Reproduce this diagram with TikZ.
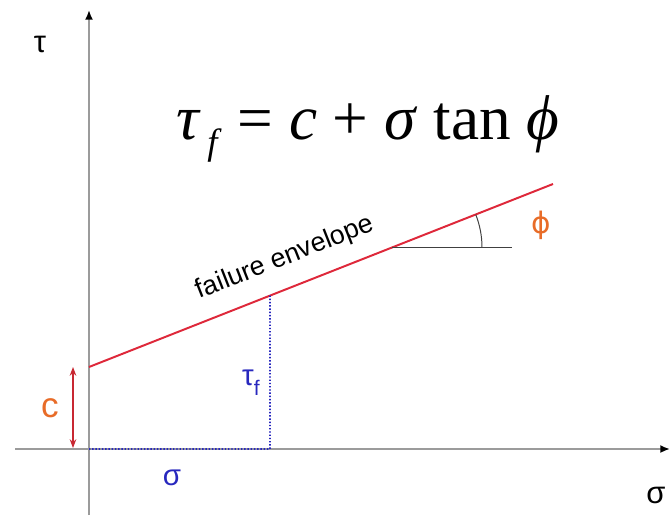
\documentclass[tikz,border=0pt]{standalone}
\usepackage{fontspec}
\setmainfont{Liberation Sans}
\newfontfamily\tms{Liberation Serif}
\newfontfamily\djs{DejaVu Sans}
\usetikzlibrary{arrows.meta,calc}
\definecolor{envred}{RGB}{222,40,58}
\definecolor{arrred}{RGB}{200,40,50}
\definecolor{labor}{RGB}{232,108,40}
\definecolor{labblue}{RGB}{40,40,190}
\definecolor{axgray}{RGB}{155,155,155}
\tikzset{
  axl/.style={-{Latex[length=2.4mm,width=2mm,black]}, axgray, line width=2pt},
  env/.style={envred, line width=1.4pt},
  dln/.style={labblue, dash pattern=on 1pt off 1.3pt, line width=1.2pt},
  carr/.style={{Stealth[length=2.2mm]}-{Stealth[length=2.2mm]}, arrred, line width=0.8pt},
  ang/.style={black!75, line width=0.7pt},
  axlab/.style={font=\fontsize{22}{24}\selectfont},
  orlab/.style={text=labor, font=\fontsize{25}{28}\selectfont},
  bllab/.style={text=labblue, font=\fontsize{21}{24}\selectfont},
}

\begin{document}
\begin{tikzpicture}[x=0.025cm,y=0.025cm]
\useasboundingbox (0,0) rectangle (671,522);
% axes
\coordinate (ybot) at (89,7);
\coordinate (ytop) at (89,512);
\coordinate (xlft) at (15,73);
\coordinate (xrgt) at (670,73);
\draw[axl] (ybot) -- (ytop);
\draw[axl] (xlft) -- (xrgt);
\node[axlab] (tau) at (40,478) {τ};
\node[axlab] (sig) at (656,27) {σ};
\node[font=\tms\fontsize{45}{50}\selectfont] (law) at (368,393)
  {\textit{τ}\raisebox{-0.5ex}{\fontsize{26}{28}\selectfont\,\textit{f}} = \textit{c} + \textit{σ} tan \textit{ϕ}};
% envelope
\coordinate (O) at (89,73);
\coordinate (C) at (89,155);
\coordinate (E) at (553,338);
\draw[env] (C) -- (E);
\node[font=\fontsize{19}{22}\selectfont, rotate=21.5] (fe) at (285,264) {failure envelope};
% friction angle
\coordinate (A) at ($(C)!{303/464}!(E)$);
\coordinate (H) at ($(A)+(120,0)$);
\draw[ang] (A) -- (H);
\draw[ang] ($(A)+(90,0)$) arc[start angle=0, end angle=21.5, radius=2.25cm];
\node[orlab, font=\djs\fontsize{21}{24}\selectfont] (phi) at (541,297) {ϕ};
% stress point
\coordinate (P) at ($(C)!{181/464}!(E)$);
\coordinate (Q) at (270,73);
\draw[dln] (O) -- (Q) -- (P);
\node[bllab] (tf) at (251,139) {τ\raisebox{-0.65ex}{\fontsize{15}{17}\selectfont f}};
\node[bllab] (sn) at (172,44) {σ};
% cohesion
\coordinate (c1) at (73,155);
\coordinate (c0) at (73,74);
\draw[carr] (c0) -- (c1);
\node[orlab] (coh) at (50,114) {c};
\end{tikzpicture}
\end{document}
